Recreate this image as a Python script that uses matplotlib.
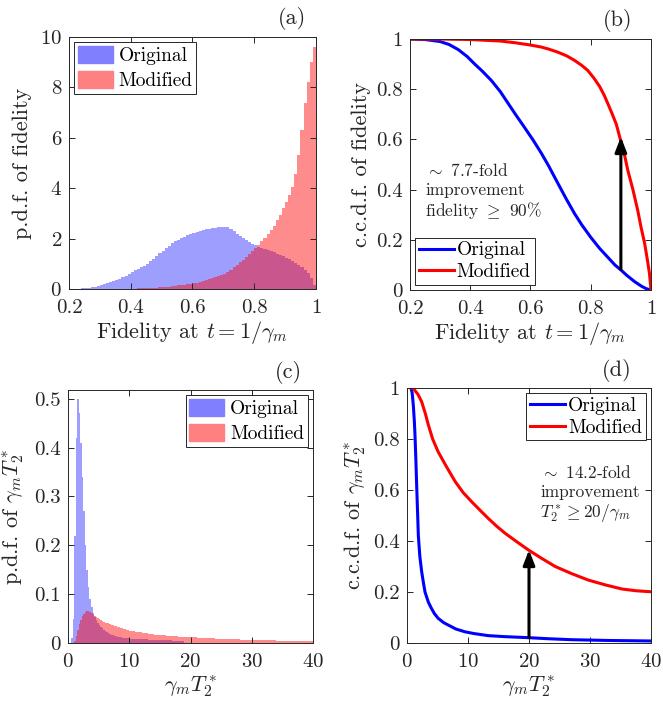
import numpy as np
import matplotlib
matplotlib.use('Agg')
import matplotlib.pyplot as plt
from matplotlib.patches import Patch
from matplotlib.ticker import FuncFormatter

plt.rcParams['font.family'] = ['cmr10', 'DejaVu Serif']
plt.rcParams['mathtext.fontset'] = 'cm'
plt.rcParams['axes.formatter.use_mathtext'] = True
plt.rcParams['axes.unicode_minus'] = False

#----------- data
# (a) p.d.f. of fidelity, bins of 0.01 starting at 0.24 (original) / 0.41 (modified)
pdf_fid_orig = [0.04, 0.05, 0.06, 0.08, 0.09, 0.12, 0.16, 0.19, 0.22, 0.26,
                0.30, 0.35, 0.40, 0.46, 0.53, 0.60, 0.68, 0.75, 0.81, 0.87,
                0.93, 1.01, 1.10, 1.20, 1.31, 1.42, 1.52, 1.62, 1.72, 1.81,
                1.89, 1.96, 2.02, 2.08, 2.14, 2.19, 2.24, 2.28, 2.31, 2.34,
                2.37, 2.39, 2.41, 2.43, 2.45, 2.47, 2.47, 2.45, 2.40, 2.30,
                2.20, 2.10, 2.01, 1.93, 1.86, 1.79, 1.73, 1.68, 1.63, 1.58,
                1.54, 1.50, 1.45, 1.40, 1.35, 1.30, 1.24, 1.18, 1.11, 1.04,
                0.96, 0.87, 0.77, 0.64, 0.45, 0.15]
pdf_fid_mod = [0.02, 0.03, 0.03, 0.04, 0.04, 0.05, 0.06, 0.06, 0.07, 0.08,
               0.09, 0.10, 0.11, 0.12, 0.14, 0.15, 0.17, 0.19, 0.21, 0.22,
               0.25, 0.28, 0.31, 0.34, 0.38, 0.42, 0.46, 0.50, 0.55, 0.61,
               0.68, 0.77, 0.87, 0.97, 1.07, 1.17, 1.27, 1.38, 1.50, 1.62,
               1.75, 1.89, 2.03, 2.17, 2.33, 2.52, 2.72, 2.95, 3.20, 3.47,
               3.75, 4.05, 4.55, 5.30, 6.30, 7.40, 8.20, 9.00, 9.60]
fid_bin = 0.01
fid_start_orig = 0.24
fid_start_mod = 0.41

# (b) c.c.d.f. of fidelity
fid_x_orig = [0.2, 0.25, 0.3, 0.33, 0.36, 0.39, 0.415, 0.44, 0.47, 0.5,
              0.525, 0.55, 0.58, 0.61, 0.636, 0.66, 0.69, 0.72, 0.746, 0.77,
              0.80, 0.83, 0.857, 0.88, 0.9, 0.92, 0.946, 0.97, 0.985, 1.0]
ccdf_fid_orig = [1.0, 0.998, 0.99, 0.978, 0.958, 0.93, 0.90, 0.872, 0.835, 0.79,
                 0.745, 0.70, 0.648, 0.595, 0.545, 0.495, 0.427, 0.36, 0.305, 0.26,
                 0.21, 0.165, 0.13, 0.10, 0.08, 0.058, 0.033, 0.014, 0.005, 0.0]
fid_x_mod = [0.2, 0.3, 0.4, 0.5, 0.55, 0.6, 0.636, 0.66, 0.69, 0.72,
             0.746, 0.77, 0.79, 0.81, 0.83, 0.845, 0.857, 0.87, 0.885, 0.896,
             0.91, 0.923, 0.94, 0.956, 0.967, 0.979, 0.988, 0.995, 1.0]
ccdf_fid_mod = [1.0, 1.0, 0.998, 0.992, 0.985, 0.976, 0.968, 0.96, 0.948, 0.933,
                0.915, 0.895, 0.875, 0.845, 0.81, 0.775, 0.742, 0.705, 0.66, 0.61,
                0.55, 0.477, 0.40, 0.317, 0.25, 0.185, 0.12, 0.065, 0.0]

# (c) p.d.f. of gamma_m T2*, bins of 0.25 up to 10 then bins of 1 up to 40
pdf_t2_orig = [0, 0, 0.01, 0.05, 0.22, 0.42, 0.50, 0.47, 0.41, 0.34,
               0.27, 0.20, 0.15, 0.115, 0.09, 0.073, 0.062, 0.054, 0.047, 0.042,
               0.037, 0.033, 0.030, 0.027, 0.024, 0.022, 0.020, 0.019, 0.017, 0.016,
               0.015, 0.014, 0.013, 0.0125, 0.012, 0.011, 0.011, 0.010, 0.010, 0.0095,
               0.009, 0.008, 0.0075, 0.007, 0.0065, 0.006, 0.0055, 0.005, 0.0045, 0,
               0, 0, 0, 0, 0, 0, 0, 0, 0, 0,
               0, 0, 0, 0, 0, 0, 0, 0, 0, 0]
pdf_t2_mod = [0, 0, 0, 0, 0.005, 0.015, 0.027, 0.038, 0.048, 0.055,
              0.060, 0.063, 0.065, 0.065, 0.064, 0.062, 0.058, 0.055, 0.053, 0.051,
              0.049, 0.047, 0.045, 0.044, 0.042, 0.041, 0.040, 0.038, 0.037, 0.036,
              0.035, 0.034, 0.033, 0.032, 0.031, 0.030, 0.029, 0.028, 0.027, 0.026,
              0.025, 0.023, 0.021, 0.019, 0.017, 0.016, 0.015, 0.014, 0.013, 0.012,
              0.0115, 0.011, 0.010, 0.0095, 0.009, 0.0085, 0.008, 0.0075, 0.007, 0.0065,
              0.006, 0.0058, 0.0055, 0.0052, 0.005, 0.0048, 0.0046, 0.0044, 0.0042, 0.004]

# (d) c.c.d.f. of gamma_m T2*
t2_x_orig = [0.66, 0.85, 1.04, 1.2, 1.3, 1.45, 1.58, 1.72, 1.86, 2.1,
             2.4, 2.7, 2.95, 3.5, 4.0, 4.5, 5.1, 6.0, 6.8, 8.0,
             9.5, 11, 13.3, 16, 19.9, 23, 27, 33, 40]
ccdf_t2_orig = [1.0, 0.98, 0.93, 0.87, 0.82, 0.72, 0.62, 0.52, 0.42, 0.34,
                0.28, 0.235, 0.20, 0.16, 0.136, 0.115, 0.097, 0.08, 0.07, 0.055,
                0.044, 0.037, 0.029, 0.025, 0.021, 0.017, 0.013, 0.010, 0.008]
t2_x_mod = [0.66, 1.0, 1.3, 1.8, 2.4, 3.0, 3.5, 4.2, 5.1, 6.5,
            7.9, 9.2, 10.6, 12, 13.3, 14.7, 16.1, 18, 19.9, 22,
            24.3, 27, 29.7, 32.5, 35.2, 37.5, 40]
ccdf_t2_mod = [1.0, 1.0, 0.99, 0.975, 0.946, 0.90, 0.855, 0.80, 0.75, 0.69,
               0.633, 0.59, 0.554, 0.52, 0.489, 0.458, 0.43, 0.397, 0.365, 0.333,
               0.30, 0.272, 0.247, 0.228, 0.212, 0.205, 0.201]

# arrows / notes
arrow_b = (0.9, 0.082, 0.61)
arrow_d = (20, 0.021, 0.365)
note_b = ['$\\sim$ 7.7-fold', 'improvement', 'fidelity $\\geq$ 90%']
note_d = ['$\\sim$ 14.2-fold', 'improvement', '$T_2^* \\geq 20/\\gamma_m$']

#----------- style
axc = '#262626'
c_blue_f = (0, 0, 1, 0.38)
c_red_f = (1, 0, 0, 0.45)
c_blue_leg = (0.5, 0.5, 1)
c_red_leg = (1, 0.5, 0.5)
TICK = 15
LAB = 16

def style_ax(ax):
    for s in ax.spines.values():
        s.set_color(axc)
        s.set_linewidth(0.7)
    ax.tick_params(direction='in', length=4, width=0.7, colors=axc, labelsize=TICK,
                   top=True, right=True)
    ax.tick_params(axis='x', pad=7)
    ax.tick_params(axis='y', pad=5)

def gfmt(v, p):
    return '%g' % round(v, 6)

def panel_label(ax, s, x, y):
    ax.text(x, y, s, transform=ax.transAxes, fontsize=LAB, ha='center', va='center', color=axc)

def draw_arrow(ax, a):
    ax.annotate('', xy=(a[0], a[2]), xytext=(a[0], a[1]),
                arrowprops=dict(arrowstyle='-|>,head_length=0.9,head_width=0.35',
                                color='black', lw=2.2, shrinkA=0, shrinkB=0))

def draw_note(ax, lines, x, y0, dy):
    for i, s in enumerate(lines):
        ax.text(x, y0 - i * dy, s, fontsize=12.5, color=axc, va='center', ha='left')

def hist_legend(ax, loc):
    lg = ax.legend(handles=[Patch(color=c_blue_leg, label='Original'),
                            Patch(color=c_red_leg, label='Modified')],
                   loc=loc, fontsize=14, frameon=True, fancybox=False, edgecolor=axc,
                   handlelength=1.8, handleheight=1.0, handletextpad=0.3, borderpad=0.2,
                   labelspacing=0.3, borderaxespad=0.25, framealpha=1)
    lg.get_frame().set_linewidth(0.7)

def line_legend(ax, loc):
    lg = ax.legend(loc=loc, fontsize=14, frameon=True, fancybox=False, edgecolor=axc,
                   handlelength=1.8, handletextpad=0.15, borderpad=0.2, labelspacing=0.2,
                   borderaxespad=0.25, framealpha=1)
    lg.get_frame().set_linewidth(0.7)

fig = plt.figure(figsize=(6.63, 7.07), dpi=100)

#----------- (a)
ax = fig.add_axes([0.104, 0.5912, 0.3725, 0.3564])
e_o = fid_start_orig + fid_bin * np.arange(len(pdf_fid_orig) + 1)
e_m = fid_start_mod + fid_bin * np.arange(len(pdf_fid_mod) + 1)
ax.stairs(pdf_fid_orig, e_o, fill=True, color=c_blue_f, lw=0)
ax.stairs(pdf_fid_mod, e_m, fill=True, color=c_red_f, lw=0)
ax.set_xlim(0.2, 1)
ax.set_ylim(0, 10)
ax.set_xticks([0.2, 0.4, 0.6, 0.8, 1])
ax.set_yticks([0, 2, 4, 6, 8, 10])
ax.xaxis.set_major_formatter(FuncFormatter(gfmt))
ax.set_xlabel('Fidelity at $t=1/\\gamma_m$', fontsize=LAB, color=axc, labelpad=2)
ax.set_ylabel('p.d.f. of fidelity', fontsize=LAB, color=axc, labelpad=6)
style_ax(ax)
hist_legend(ax, 'upper left')
panel_label(ax, '(a)', 0.905, 1.075)

#----------- (b)
ax = fig.add_axes([0.6184, 0.5898, 0.3635, 0.355])
ax.plot(fid_x_orig, ccdf_fid_orig, color='blue', lw=2.2, label='Original')
ax.plot(fid_x_mod, ccdf_fid_mod, color='red', lw=2.2, label='Modified')
draw_arrow(ax, arrow_b)
draw_note(ax, note_b, 0.25, 0.478, 0.08)
ax.set_xlim(0.2, 1)
ax.set_ylim(0, 1)
ax.set_xticks([0.2, 0.4, 0.6, 0.8, 1])
ax.set_yticks([0, 0.2, 0.4, 0.6, 0.8, 1])
ax.xaxis.set_major_formatter(FuncFormatter(gfmt))
ax.yaxis.set_major_formatter(FuncFormatter(gfmt))
ax.set_xlabel('Fidelity at $t=1/\\gamma_m$', fontsize=LAB, color=axc, labelpad=2)
ax.set_ylabel('c.c.d.f. of fidelity', fontsize=LAB, color=axc, labelpad=4)
style_ax(ax)
line_legend(ax, 'lower left')
panel_label(ax, '(b)', 0.86, 1.075)

#----------- (c)
ax = fig.add_axes([0.1026, 0.0905, 0.3695, 0.3579])
e_c = np.concatenate([np.arange(0, 10, 0.25), np.arange(10, 41, 1.0)])
ax.stairs(pdf_t2_orig, e_c, fill=True, color=c_blue_f, lw=0)
ax.stairs(pdf_t2_mod, e_c, fill=True, color=c_red_f, lw=0)
ax.set_xlim(0, 40)
ax.set_ylim(0, 0.518)
ax.set_xticks([0, 10, 20, 30, 40])
ax.set_yticks([0, 0.1, 0.2, 0.3, 0.4, 0.5])
ax.yaxis.set_major_formatter(FuncFormatter(gfmt))
ax.set_xlabel('$\\gamma_m T_2^*$', fontsize=LAB, color=axc, labelpad=2)
ax.set_ylabel('p.d.f. of $\\gamma_m T_2^*$', fontsize=LAB, color=axc, labelpad=6)
style_ax(ax)
hist_legend(ax, 'upper right')
panel_label(ax, '(c)', 0.9, 1.07)

#----------- (d)
ax = fig.add_axes([0.6139, 0.0905, 0.368, 0.3607])
ax.plot(t2_x_orig, ccdf_t2_orig, color='blue', lw=2.2, label='Original')
ax.plot(t2_x_mod, ccdf_t2_mod, color='red', lw=2.2, label='Modified')
draw_arrow(ax, arrow_d)
draw_note(ax, note_d, 21.8, 0.67, 0.08)
ax.set_xlim(0, 40)
ax.set_ylim(0, 1)
ax.set_xticks([0, 10, 20, 30, 40])
ax.set_yticks([0, 0.2, 0.4, 0.6, 0.8, 1])
ax.yaxis.set_major_formatter(FuncFormatter(gfmt))
ax.set_xlabel('$\\gamma_m T_2^*$', fontsize=LAB, color=axc, labelpad=2)
ax.set_ylabel('c.c.d.f. of $\\gamma_m T_2^*$', fontsize=LAB, color=axc, labelpad=4)
style_ax(ax)
line_legend(ax, 'upper right')
panel_label(ax, '(d)', 0.86, 1.07)

fig.savefig('out.png', dpi=100)
